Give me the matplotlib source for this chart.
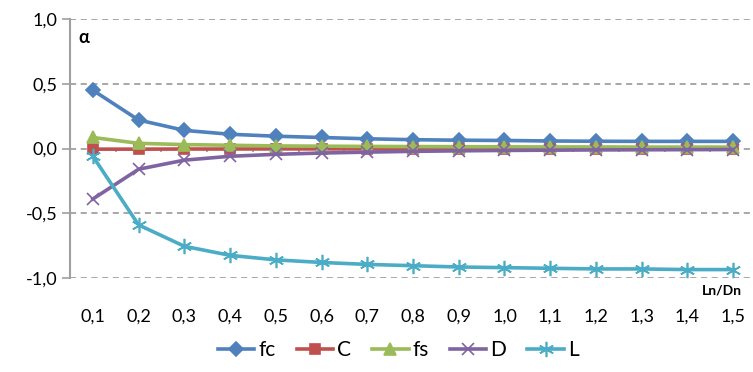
import matplotlib.pyplot as plt
import numpy as np

# Data
ratios = ['0,1', '0,2', '0,3', '0,4', '0,5', '0,6', '0,7', '0,8',
          '0,9', '1,0', '1,1', '1,2', '1,3', '1,4', '1,5']
fc = [0.45, 0.22, 0.14, 0.11, 0.095, 0.085, 0.075, 0.068, 0.064, 0.062, 0.058, 0.056, 0.055, 0.055, 0.055]
C = [-0.005, -0.005, -0.004, -0.004, -0.003, -0.003, -0.003, -0.002, -0.002, -0.002, -0.002, -0.002, -0.002, -0.002, -0.002]
fs = [0.085, 0.04, 0.03, 0.025, 0.02, 0.018, 0.016, 0.015, 0.014, 0.013, 0.012, 0.012, 0.011, 0.011, 0.011]
D = [-0.39, -0.16, -0.09, -0.06, -0.045, -0.035, -0.028, -0.022, -0.018, -0.015, -0.013, -0.011, -0.01, -0.009, -0.008]
L = [-0.06, -0.59, -0.755, -0.825, -0.86, -0.88, -0.895, -0.905, -0.915, -0.92, -0.925, -0.93, -0.93, -0.935, -0.935]

series = [('fc', fc, '#4F81BD', 'D', 7),
          ('C', C, '#C0504D', 's', 7),
          ('fs', fs, '#9BBB59', '^', 8),
          ('D', D, '#8064A2', 'x', 9),
          ('L', L, '#4BACC6', (6, 2, 0), 11)]

plt.rcParams['font.family'] = ['Lato', 'DejaVu Sans']

fig = plt.figure(figsize=(7.53, 3.72), dpi=100)
ax = fig.add_axes([70 / 753, 1 - 278 / 372, 686 / 753, 259 / 372])

x = np.arange(1, len(ratios) + 1)
for name, vals, col, mk, ms in series:
    ax.plot(x, vals, color=col, lw=2.6, marker=mk, markersize=ms,
            markeredgewidth=1.2, label=name, clip_on=False)

ax.set_xlim(0.5, len(ratios) + 0.5)
ax.set_ylim(-1.0, 1.0)
ax.set_yticks([-1.0, -0.5, 0.0, 0.5, 1.0])
ax.set_yticklabels(['-1,0', '-0,5', '0,0', '0,5', '1,0'], fontsize=13)
ax.set_xticks(x)
ax.set_xticklabels(ratios, fontsize=13)
ax.tick_params(axis='x', length=0, pad=22)
ax.tick_params(axis='y', length=6, color='#A0A0A0', width=1.2, pad=3)

ax.yaxis.grid(True, linestyle=(0, (4, 3)), color='#909090', lw=1.1)
ax.set_axisbelow(True)
for s in ['top', 'right', 'bottom']:
    ax.spines[s].set_visible(False)
ax.spines['left'].set_color('#A0A0A0')
ax.spines['left'].set_linewidth(1.5)

# small tick marks on the zero line between categories
ax.vlines(x[:-1] + 0.5, -0.03, 0, color='#909090', lw=1.1, zorder=1)

ax.text(0.012, 0.93, 'α', transform=ax.transAxes, fontsize=13,
        fontweight='bold', ha='left', va='center')
ax.text(0.98, -0.05, 'Ln/Dn', transform=ax.transAxes, fontsize=10,
        fontweight='bold', ha='right', va='center')

fig.legend(loc='center', bbox_to_anchor=(0.529, 0.058), ncol=5, frameon=False,
           fontsize=15, handlelength=1.75, handletextpad=0.2, columnspacing=1.0)

fig.savefig('out.png', dpi=100)
